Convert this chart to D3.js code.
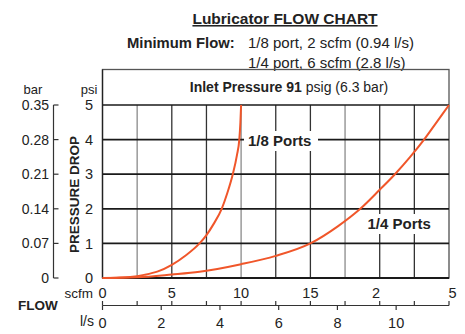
<!DOCTYPE html>
<html>
<head>
<meta charset="utf-8">
<script src="https://cdn.jsdelivr.net/npm/d3@7"></script>
<style>
  html, body { margin: 0; padding: 0; background: #fff; }
  svg { display: block; font-family: "Liberation Sans", Arial, Helvetica, sans-serif; }
</style>
</head>
<body>
<svg id="chart" width="465" height="334"></svg>
<script>
// Flow data (scfm vs. pressure drop in psi)
const port18Flow = [0, 1, 2, 3, 4, 5, 6, 7, 7.5, 8, 8.6, 9, 9.4, 9.7, 9.87, 9.95, 10];
const port18Drop = [0, 0.01, 0.03, 0.09, 0.19, 0.38, 0.65, 1.0, 1.24, 1.55, 2.0, 2.45, 3.0, 3.55, 4.0, 4.5, 5.0];
const port14Flow = [0, 2.5, 5, 7, 10, 12.5, 15, 17, 18.6, 20, 21.1, 22.2, 23.2, 24.1, 25];
const port14Drop = [0, 0.02, 0.1, 0.18, 0.4, 0.64, 1.0, 1.5, 2.0, 2.55, 3.0, 3.5, 4.0, 4.5, 5.0];

// Axis ticks
const psiTicks = [0, 1, 2, 3, 4, 5];
const barTicks = [0, 0.07, 0.14, 0.21, 0.28, 0.35];
const barTickLabels = ["0", "0.07", "0.14", "0.21", "0.28", "0.35"];
const scfmGrid = [0, 2.5, 5, 7.5, 10, 12.5, 15, 17.5, 20, 22.5, 25];
const scfmLabelValues = [0, 5, 10, 15, 20, 25];
const scfmLabels = ["0", "5", "10", "15", "2", "5"];
const lpsTicks = [0, 2, 4, 6, 8, 10];
const lpsLabels = ["0", "2", "4", "6", "8", "10"];

const orange = "#f0562a";
const svg = d3.select("#chart");

const x = d3.scaleLinear().domain([0, 25]).range([102.5, 449]);
const xl = d3.scaleLinear().domain([0, 11.8]).range([102.5, 449]);
const y = d3.scaleLinear().domain([0, 5]).range([278, 105]);
const yb = d3.scaleLinear().domain([0, 0.35]).range([278, 105]);

// Titles
svg.append("text").attr("x", 285).attr("y", 24).attr("text-anchor", "middle")
  .attr("font-size", 15.5).attr("font-weight", "bold").attr("fill", "#222")
  .attr("text-decoration", "underline").text("Lubricator FLOW CHART");

svg.append("text").attr("x", 127).attr("y", 48).attr("font-size", 14.8)
  .attr("font-weight", "bold").attr("fill", "#222").text("Minimum Flow:");
svg.append("text").attr("x", 248).attr("y", 48).attr("font-size", 15)
  .attr("fill", "#222").text("1/8 port, 2 scfm (0.94 l/s)");
svg.append("text").attr("x", 248).attr("y", 67.5).attr("font-size", 15)
  .attr("fill", "#222").text("1/4 port, 6 scfm (2.8 l/s)");

// Frame with header strip
svg.append("rect").attr("x", x(0)).attr("y", 69.5)
  .attr("width", x(25) - x(0)).attr("height", y(0) - 69.5)
  .attr("fill", "none").attr("stroke", "#555").attr("stroke-width", 1.3);

const header = svg.append("text").attr("x", 289).attr("y", 91.5)
  .attr("text-anchor", "middle").attr("font-size", 14).attr("fill", "#222");
header.append("tspan").attr("font-weight", "bold").text("Inlet Pressure 91");
header.append("tspan").text(" psig (6.3 bar)");

// Vertical grid
svg.append("g").selectAll("line").data(scfmGrid.slice(1))
  .join("line")
  .attr("x1", d => x(d)).attr("x2", d => x(d))
  .attr("y1", y(5)).attr("y2", y(0))
  .attr("stroke", (d, i) => i % 3 === 0 ? "#8a8a8a" : "#333")
  .attr("stroke-width", 1.3);

// Horizontal grid
svg.append("g").selectAll("line").data(psiTicks.slice(1))
  .join("line")
  .attr("x1", x(0)).attr("x2", x(25))
  .attr("y1", d => y(d)).attr("y2", d => y(d))
  .attr("stroke", "#1a1a1a").attr("stroke-width", 1.7);

// Left plot edge and baseline
svg.append("line").attr("x1", x(0)).attr("x2", x(0)).attr("y1", 69.5).attr("y2", y(0))
  .attr("stroke", "#222").attr("stroke-width", 1.3);
svg.append("line").attr("x1", x(0)).attr("x2", x(25)).attr("y1", y(0)).attr("y2", y(0))
  .attr("stroke", "#1a1a1a").attr("stroke-width", 2);

// Curve labels with white knock-out
function curveLabel(tx, ty, w, txt) {
  svg.append("rect").attr("x", tx - 4).attr("y", ty - 15).attr("width", w + 8).attr("height", 20)
    .attr("fill", "#fff");
  svg.append("text").attr("x", tx).attr("y", ty).attr("font-size", 15)
    .attr("font-weight", "bold").attr("fill", "#222").text(txt);
}
curveLabel(248, 146, 66, "1/8 Ports");
curveLabel(367.5, 229, 66, "1/4 Ports");

// Flow curves
const line = d3.line().x(d => x(d[0])).y(d => y(d[1])).curve(d3.curveMonotoneX);
svg.append("path").datum(d3.zip(port14Flow, port14Drop)).attr("d", line)
  .attr("fill", "none").attr("stroke", orange).attr("stroke-width", 2);
svg.append("path").datum(d3.zip(port18Flow, port18Drop)).attr("d", line)
  .attr("fill", "none").attr("stroke", orange).attr("stroke-width", 2);

// psi labels
svg.append("text").attr("x", 89).attr("y", 94).attr("text-anchor", "middle")
  .attr("font-size", 13).attr("fill", "#222").text("psi");
svg.append("g").selectAll("text").data(psiTicks).join("text")
  .attr("x", 89).attr("y", d => y(d)).attr("dy", "0.36em")
  .attr("text-anchor", "middle").attr("font-size", 14.5).attr("fill", "#222")
  .text(d => d);

// bar axis
svg.append("text").attr("x", 33).attr("y", 94).attr("text-anchor", "middle")
  .attr("font-size", 13).attr("fill", "#222").text("bar");
const barAxis = svg.append("g").attr("transform", "translate(53.5,0)");
barAxis.append("line").attr("x1", 0).attr("x2", 0).attr("y1", yb(0.35)).attr("y2", yb(0))
  .attr("stroke", "#333").attr("stroke-width", 1.2);
barAxis.selectAll("line.tk").data(barTicks).join("line").attr("class", "tk")
  .attr("x1", 0).attr("x2", 5).attr("y1", d => yb(d)).attr("y2", d => yb(d))
  .attr("stroke", "#333").attr("stroke-width", 1.2);
barAxis.selectAll("text").data(barTicks).join("text")
  .attr("x", -4.5).attr("y", d => yb(d)).attr("dy", "0.36em")
  .attr("text-anchor", "end").attr("font-size", 14).attr("fill", "#222")
  .text((d, i) => barTickLabels[i]);

// Vertical axis title
svg.append("text").attr("transform", `translate(79,${(y(0) + y(5)) / 2 + 3}) rotate(-90)`)
  .attr("text-anchor", "middle").attr("font-size", 13.5).attr("font-weight", "bold")
  .attr("fill", "#222").text("PRESSURE DROP");

// scfm labels (partially printed values keep their digit position)
svg.append("text").attr("x", 93).attr("y", 298).attr("text-anchor", "end")
  .attr("font-size", 13.5).attr("fill", "#222").text("scfm");
svg.append("g").selectAll("text").data(scfmLabelValues).join("text")
  .attr("x", d => x(d)).attr("y", 298)
  .attr("text-anchor", (d, i) => {
    const full = String(d), shown = scfmLabels[i];
    if (shown === full) return "middle";
    return full.startsWith(shown) ? "end" : "start";
  })
  .attr("dx", (d, i) => {
    const full = String(d), shown = scfmLabels[i];
    if (shown === full) return 0;
    return full.startsWith(shown) ? 0.5 : -0.5;
  })
  .attr("font-size", 14.5).attr("fill", "#222").text((d, i) => scfmLabels[i]);

// Flow axis (scfm ticks up, l/s ticks down)
const flowY = 305.5;
svg.append("line").attr("x1", x(0)).attr("x2", x(25)).attr("y1", flowY).attr("y2", flowY)
  .attr("stroke", "#333").attr("stroke-width", 1.2);
svg.append("g").selectAll("line").data(scfmGrid).join("line")
  .attr("x1", d => x(d)).attr("x2", d => x(d)).attr("y1", flowY - 4.5).attr("y2", flowY)
  .attr("stroke", "#333").attr("stroke-width", 1.2);
svg.append("g").selectAll("line").data(lpsTicks).join("line")
  .attr("x1", d => xl(d)).attr("x2", d => xl(d)).attr("y1", flowY).attr("y2", flowY + 4.5)
  .attr("stroke", "#333").attr("stroke-width", 1.2);

svg.append("text").attr("x", 18).attr("y", 310).attr("font-size", 13.5)
  .attr("font-weight", "bold").attr("fill", "#222").text("FLOW");
svg.append("text").attr("x", 94).attr("y", 326).attr("text-anchor", "end")
  .attr("font-size", 14).attr("fill", "#222").text("l/s");
svg.append("g").selectAll("text").data(lpsTicks).join("text")
  .attr("x", d => xl(d)).attr("y", 327.5).attr("text-anchor", "middle")
  .attr("font-size", 14.5).attr("fill", "#222").text((d, i) => lpsLabels[i]);
</script>
</body>
</html>
